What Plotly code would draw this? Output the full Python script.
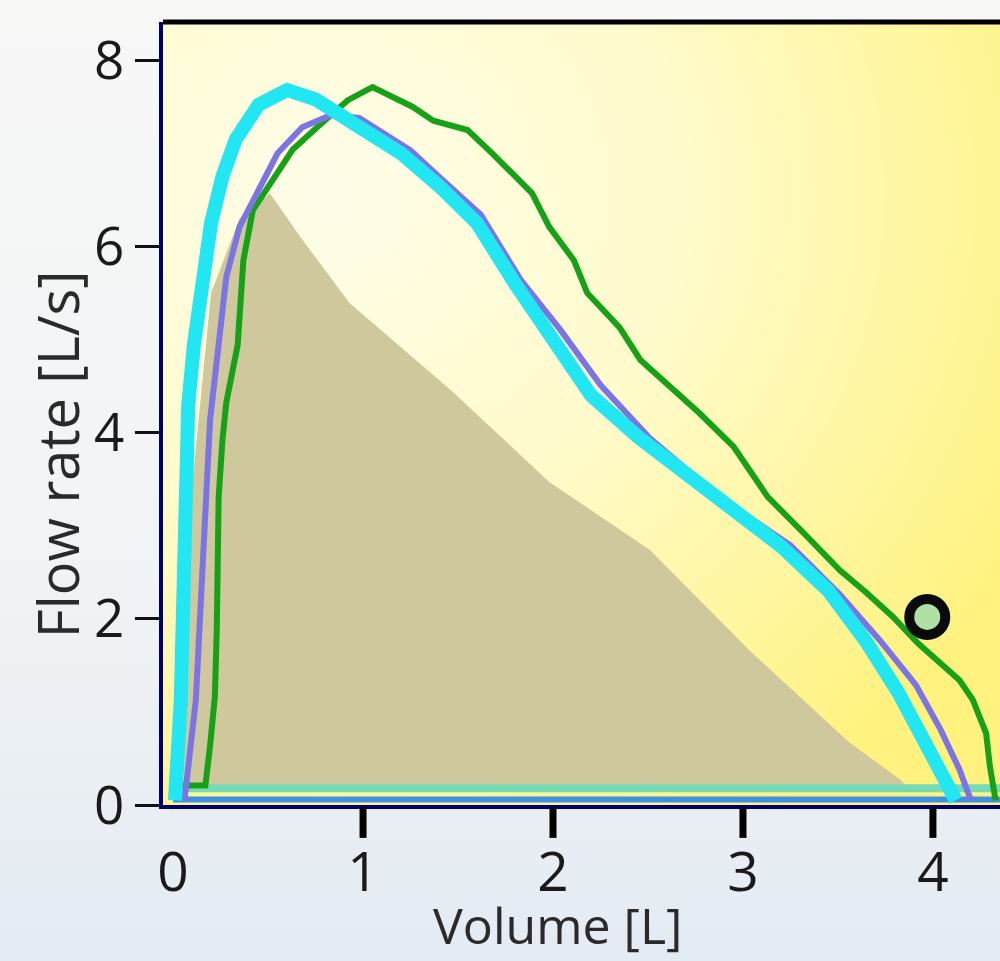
import base64
import plotly.graph_objects as go

# ---------------- data ----------------
cyan_x = [0.01, 0.04, 0.06, 0.08, 0.11, 0.15, 0.20, 0.26, 0.33, 0.45, 0.60, 0.75, 0.95,
          1.20, 1.40, 1.60, 1.80, 2.00, 2.20, 2.45, 2.70, 2.95, 3.20, 3.45, 3.65, 3.82,
          3.95, 4.05, 4.12]
cyan_y = [0.05, 1.10, 2.70, 4.30, 4.95, 5.60, 6.25, 6.75, 7.15, 7.52, 7.68, 7.58, 7.32,
          7.00, 6.65, 6.25, 5.60, 5.00, 4.40, 3.95, 3.55, 3.15, 2.78, 2.30, 1.75, 1.20,
          0.70, 0.25, 0.05]

purple_x = [0.06, 0.12, 0.16, 0.195, 0.25, 0.28, 0.35, 0.46, 0.55, 0.68, 0.83, 0.98, 1.25,
            1.41, 1.62, 1.83, 2.04, 2.25, 2.51, 2.88, 3.25, 3.51, 3.72, 3.91, 4.04, 4.14, 4.20]
purple_y = [0.05, 1.13, 2.74, 4.14, 5.13, 5.67, 6.21, 6.64, 7.00, 7.28, 7.41, 7.38, 7.03,
            6.73, 6.34, 5.64, 5.10, 4.51, 3.94, 3.30, 2.79, 2.26, 1.77, 1.29, 0.81, 0.38, 0.05]

green_x = [0.04, 0.17, 0.195, 0.22, 0.23, 0.24, 0.26, 0.28, 0.34, 0.37, 0.42, 0.51, 0.63,
           0.77, 0.92, 1.05, 1.16, 1.26, 1.37, 1.55, 1.68, 1.89, 1.98, 2.11, 2.18, 2.35,
           2.46, 2.60, 2.77, 2.95, 3.13, 3.32, 3.51, 3.65, 3.79, 3.92, 4.07, 4.14, 4.21,
           4.28, 4.30, 4.33]
green_y = [0.21, 0.21, 0.64, 1.16, 1.88, 3.31, 3.92, 4.32, 4.94, 5.85, 6.39, 6.68, 7.04,
           7.30, 7.57, 7.71, 7.60, 7.50, 7.35, 7.25, 7.00, 6.57, 6.21, 5.85, 5.50, 5.13,
           4.78, 4.53, 4.21, 3.85, 3.31, 2.92, 2.52, 2.28, 2.02, 1.74, 1.48, 1.34, 1.13,
           0.77, 0.41, 0.05]

predicted_x = [0.05, 0.08, 0.20, 0.35, 0.51, 0.67, 0.93, 1.46, 1.98, 2.51, 3.04, 3.56, 3.83, 3.88, 0.05]
predicted_y = [0.15, 3.00, 5.50, 6.30, 6.57, 6.10, 5.39, 4.46, 3.47, 2.74, 1.65, 0.67, 0.27, 0.15, 0.15]

baseline_x = [0.0, 4.45]
baseline_mint_y = [0.18, 0.18]
baseline_blue_y = [0.06, 0.06]

point_x = [3.97]
point_y = [2.02]

x_ticks = [0, 1, 2, 3, 4]
x_tick_marks = [1, 2, 3, 4]
y_ticks = [0, 2, 4, 6, 8]

x_title = "Volume [L]"
y_title = "Flow rate [L/s]"

x_range = [-0.053, 4.353]
y_range = [0, 8.41]

# ---------------- background gradients ----------------
def svg_uri(svg):
    return "data:image/svg+xml;base64," + base64.b64encode(svg.encode()).decode()

plot_bg = svg_uri(
    "<svg xmlns='http://www.w3.org/2000/svg' width='100' height='100' viewBox='0 0 100 100' "
    "preserveAspectRatio='none'><defs><radialGradient id='g' cx='0.2' cy='0.22' r='0.95'>"
    "<stop offset='0' stop-color='#fffde9'/><stop offset='0.45' stop-color='#fffbcb'/>"
    "<stop offset='1' stop-color='#fff27e'/></radialGradient></defs>"
    "<rect width='100' height='100' fill='url(#g)'/></svg>")

paper_bg = svg_uri(
    "<svg xmlns='http://www.w3.org/2000/svg' width='100' height='100' viewBox='0 0 100 100' "
    "preserveAspectRatio='none'><defs><linearGradient id='s' x1='0' y1='0' x2='0' y2='1'>"
    "<stop offset='0' stop-color='#f8f8f7'/><stop offset='0.6' stop-color='#f0f3f5'/>"
    "<stop offset='1' stop-color='#e2eaf2'/></linearGradient></defs>"
    "<rect width='100' height='100' fill='url(#s)'/></svg>")

fig = go.Figure()

fig.add_trace(go.Scatter(x=predicted_x, y=predicted_y, mode="lines", fill="toself",
                         fillcolor="#cfc89c", line=dict(width=0, color="#cfc89c"),
                         hoverinfo="skip", showlegend=False))
fig.add_trace(go.Scatter(x=baseline_x, y=baseline_mint_y, mode="lines",
                         line=dict(color="#74dab8", width=8), showlegend=False))
fig.add_trace(go.Scatter(x=baseline_x, y=baseline_blue_y, mode="lines",
                         line=dict(color="#3f8fe2", width=6), showlegend=False))
fig.add_trace(go.Scatter(x=green_x, y=green_y, mode="lines",
                         line=dict(color="#17a117", width=6), showlegend=False))
fig.add_trace(go.Scatter(x=purple_x, y=purple_y, mode="lines",
                         line=dict(color="#7d74e4", width=6), showlegend=False))
fig.add_trace(go.Scatter(x=cyan_x, y=cyan_y, mode="lines",
                         line=dict(color="#22e6f2", width=14), showlegend=False))
fig.add_trace(go.Scatter(x=point_x, y=point_y, mode="markers",
                         marker=dict(symbol="circle", size=36, color="#aee0a6",
                                     line=dict(color="#0a0a0a", width=10)),
                         showlegend=False))

shapes = [dict(type="line", xref="paper", yref="paper", x0=0, x1=1, y0=1, y1=1,
               line=dict(color="#000000", width=5))]
for t in x_tick_marks:
    shapes.append(dict(type="line", xref="x", yref="paper", x0=t, x1=t, y0=-0.003, y1=-0.042,
                       line=dict(color="#000000", width=7)))

fig.update_layout(
    width=1000, height=961,
    margin=dict(l=163, r=0, t=22, b=156),
    paper_bgcolor="#eef2f5",
    plot_bgcolor="rgba(0,0,0,0)",
    font=dict(family="Open Sans", color="#1a1a1a"),
    images=[
        dict(source=paper_bg, xref="paper", yref="paper", x=-0.2, y=1.05, sizex=1.4, sizey=1.3,
             xanchor="left", yanchor="top", sizing="stretch", layer="below"),
        dict(source=plot_bg, xref="x domain", yref="y domain", x=0, y=1, sizex=1, sizey=1,
             xanchor="left", yanchor="top", sizing="stretch", layer="below"),
    ],
    shapes=shapes,
    annotations=[
        dict(text=y_title, xref="paper", yref="paper", x=-0.1266, y=0.448,
             xanchor="center", yanchor="middle", textangle=-90, showarrow=False,
             font=dict(size=56, color="#2a2a2a")),
        dict(text=x_title, xref="paper", yref="paper", x=0.471, y=-0.1535,
             xanchor="center", yanchor="middle", showarrow=False,
             font=dict(size=50, color="#2a2a2a")),
    ],
    xaxis=dict(range=x_range, tickmode="array", tickvals=x_ticks,
               ticks="outside", ticklen=16, tickcolor="rgba(0,0,0,0)", tickwidth=1,
               tickfont=dict(size=55, color="#1a1a1a"),
               showgrid=False, zeroline=False,
               showline=True, linecolor="#00006e", linewidth=4),
    yaxis=dict(range=y_range, tickmode="array", tickvals=y_ticks,
               ticks="outside", ticklen=24, tickcolor="#111111", tickwidth=3,
               tickfont=dict(size=53, color="#1a1a1a"),
               showgrid=False, zeroline=False,
               showline=True, linecolor="#00006e", linewidth=4),
)

fig.write_html("out.html", include_plotlyjs=True, full_html=True,
               config={"displayModeBar": False},
               post_script="document.body.style.margin='0';document.body.style.overflow='hidden';")
